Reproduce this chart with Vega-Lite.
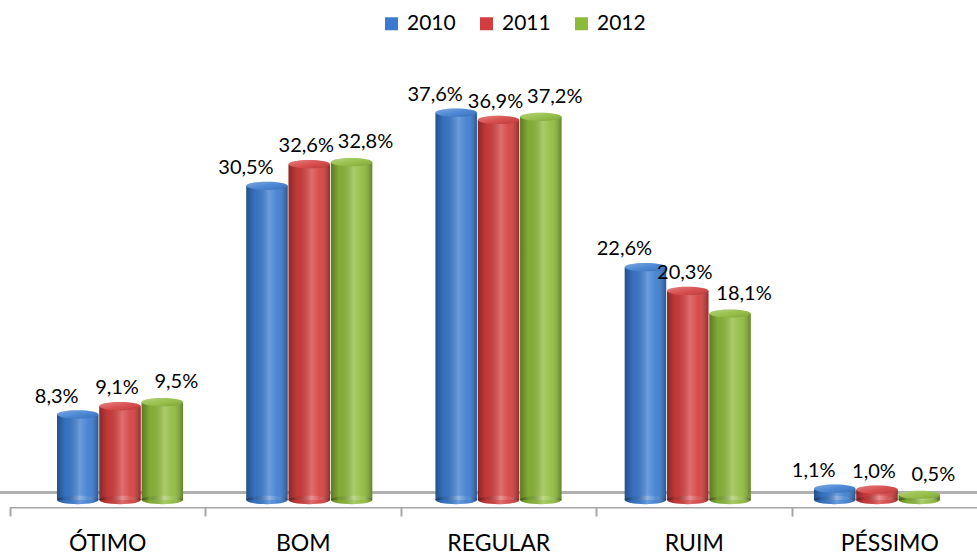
{
  "$schema": "https://vega.github.io/schema/vega-lite/v6.json",
  "width": 977,
  "height": 507,
  "autosize": {"type": "none"},
  "padding": {"left": 0, "top": 0, "right": 0, "bottom": 50},
  "background": "white",
  "config": {"view": {"stroke": null}, "font": "Lato"},
  "data": {
    "values": [
      {"cat": "ÓTIMO", "year": "2010", "v": 8.3, "lbl": "8,3%"},
      {"cat": "ÓTIMO", "year": "2011", "v": 9.1, "lbl": "9,1%"},
      {"cat": "ÓTIMO", "year": "2012", "v": 9.5, "lbl": "9,5%"},
      {"cat": "BOM", "year": "2010", "v": 30.5, "lbl": "30,5%"},
      {"cat": "BOM", "year": "2011", "v": 32.6, "lbl": "32,6%"},
      {"cat": "BOM", "year": "2012", "v": 32.8, "lbl": "32,8%"},
      {"cat": "REGULAR", "year": "2010", "v": 37.6, "lbl": "37,6%"},
      {"cat": "REGULAR", "year": "2011", "v": 36.9, "lbl": "36,9%"},
      {"cat": "REGULAR", "year": "2012", "v": 37.2, "lbl": "37,2%"},
      {"cat": "RUIM", "year": "2010", "v": 22.6, "lbl": "22,6%"},
      {"cat": "RUIM", "year": "2011", "v": 20.3, "lbl": "20,3%"},
      {"cat": "RUIM", "year": "2012", "v": 18.1, "lbl": "18,1%"},
      {"cat": "PÉSSIMO", "year": "2010", "v": 1.1, "lbl": "1,1%"},
      {"cat": "PÉSSIMO", "year": "2011", "v": 1.0, "lbl": "1,0%"},
      {"cat": "PÉSSIMO", "year": "2012", "v": 0.5, "lbl": "0,5%"}
    ]
  },
  "layer": [
    {
      "mark": {"type": "bar", "fill": "white"},
      "encoding": {
        "x": {
          "field": "cat", "type": "nominal", "sort": null,
          "scale": {"range": [9.5, 987], "paddingInner": 0, "paddingOuter": 0},
          "axis": {
            "title": null, "tickBand": "extent", "tickSize": 9, "tickColor": "#a6a6a6", "tickWidth": 2,
            "domainColor": "#a6a6a6", "domainWidth": 2, "labelFont": "Lato", "labelFontSize": 23,
            "labelColor": "black", "labelPadding": 16, "labelAngle": 0
          }
        },
        "y": {"datum": 0.75, "scale": {"domain": [0, 40], "range": [500, 88]}, "axis": null},
        "y2": {"datum": -0.68}
      }
    },
    {
      "mark": {"type": "rule", "color": "#b0b0b0", "strokeWidth": 2},
      "encoding": {"y": {"datum": 0.75, "axis": null}}
    },
    {
      "encoding": {
        "x": {
          "field": "cat", "type": "nominal", "sort": null,
          "scale": {"range": [57, 940], "paddingInner": 0.334, "paddingOuter": 0},
          "axis": null
        },
        "xOffset": {"field": "year", "type": "nominal", "scale": {"paddingInner": 0.02, "paddingOuter": 0}}
      },
      "layer": [
        {
          "mark": {"type": "point", "shape": "M -1 0 A 1 0.2 0 1 0 1 0 A 1 0.2 0 1 0 -1 0 Z", "size": 1720, "filled": true, "opacity": 1},
          "encoding": {
            "y": {"datum": 0, "axis": null},
            "color": {"field": "year", "type": "nominal"}
          }
        },
        {
          "mark": {"type": "bar"},
          "encoding": {
            "y": {"field": "v", "type": "quantitative", "axis": null},
            "color": {
              "field": "year", "type": "nominal",
              "scale": {"domain": ["2010", "2011", "2012"], "range": ["#3a7bd0", "#d43d3d", "#8dba3a"]},
              "legend": {
                "orient": "none", "legendX": 381, "legendY": 13, "direction": "horizontal", "title": null,
                "symbolType": "square", "symbolSize": 169, "symbolStrokeWidth": 0, "labelFont": "Lato",
                "labelFontSize": 21, "labelColor": "black", "columnPadding": 20, "labelOffset": 5
              }
            }
          }
        },
        {
          "mark": {
            "type": "bar",
            "fill": {
              "gradient": "linear", "x1": 0, "x2": 1, "y1": 0, "y2": 0,
              "stops": [
                {"offset": 0, "color": "rgba(0,0,0,0.35)"},
                {"offset": 0.2, "color": "rgba(0,0,0,0.08)"},
                {"offset": 0.55, "color": "rgba(255,255,255,0.25)"},
                {"offset": 0.75, "color": "rgba(255,255,255,0.08)"},
                {"offset": 1, "color": "rgba(0,0,0,0.3)"}
              ]
            }
          },
          "encoding": {"y": {"field": "v", "type": "quantitative", "axis": null}}
        },
        {
          "mark": {
            "type": "point", "shape": "M -1 0 A 1 0.2 0 1 0 1 0 A 1 0.2 0 1 0 -1 0 Z", "size": 1720, "filled": true, "opacity": 1,
            "fill": {
              "gradient": "linear", "x1": 0, "x2": 1, "y1": 0, "y2": 0,
              "stops": [
                {"offset": 0, "color": "rgba(0,0,0,0.35)"},
                {"offset": 0.2, "color": "rgba(0,0,0,0.08)"},
                {"offset": 0.55, "color": "rgba(255,255,255,0.25)"},
                {"offset": 0.75, "color": "rgba(255,255,255,0.08)"},
                {"offset": 1, "color": "rgba(0,0,0,0.3)"}
              ]
            }
          },
          "encoding": {"y": {"datum": 0, "axis": null}}
        },
        {
          "mark": {"type": "point", "shape": "M -1 0 A 1 0.2 0 1 0 1 0 A 1 0.2 0 1 0 -1 0 Z", "size": 1720, "filled": true, "opacity": 1},
          "encoding": {
            "y": {"field": "v", "type": "quantitative", "axis": null},
            "color": {"field": "year", "type": "nominal"}
          }
        },
        {
          "mark": {
            "type": "point", "shape": "M -1 0 A 1 0.2 0 1 0 1 0 A 1 0.2 0 1 0 -1 0 Z", "size": 1720, "filled": true, "opacity": 1,
            "fill": {
              "gradient": "linear", "x1": 0, "x2": 1, "y1": 0, "y2": 1,
              "stops": [
                {"offset": 0, "color": "rgba(255,255,255,0.35)"},
                {"offset": 0.5, "color": "rgba(255,255,255,0.1)"},
                {"offset": 1, "color": "rgba(0,0,0,0.15)"}
              ]
            }
          },
          "encoding": {"y": {"field": "v", "type": "quantitative", "axis": null}}
        },
        {
          "transform": [{"filter": "datum.year === '2010'"}],
          "mark": {"type": "text", "dx": -21, "dy": -12, "baseline": "alphabetic", "fontSize": 20, "font": "Lato", "color": "black"},
          "encoding": {"y": {"field": "v", "type": "quantitative", "axis": null}, "text": {"field": "lbl"}}
        },
        {
          "transform": [{"filter": "datum.year === '2011'"}],
          "mark": {"type": "text", "dx": -3, "dy": -12, "baseline": "alphabetic", "fontSize": 20, "font": "Lato", "color": "black"},
          "encoding": {"y": {"field": "v", "type": "quantitative", "axis": null}, "text": {"field": "lbl"}}
        },
        {
          "transform": [{"filter": "datum.year === '2012'"}],
          "mark": {"type": "text", "dx": 14, "dy": -14, "baseline": "alphabetic", "fontSize": 20, "font": "Lato", "color": "black"},
          "encoding": {"y": {"field": "v", "type": "quantitative", "axis": null}, "text": {"field": "lbl"}}
        }
      ]
    }
  ],
  "resolve": {"scale": {"x": "independent"}, "axis": {"x": "independent"}}
}
